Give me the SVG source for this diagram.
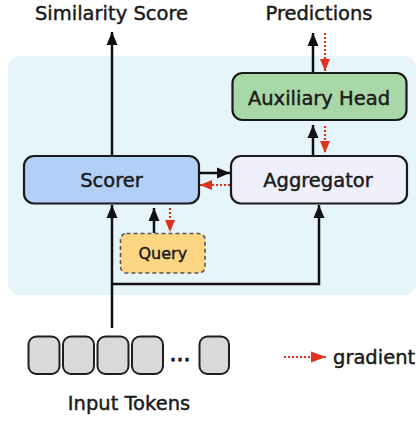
<svg xmlns="http://www.w3.org/2000/svg" width="419" height="424" viewBox="0 0 419 424">
  <style>
    text { font-family: "DejaVu Sans", "Liberation Sans", sans-serif; fill: #1a1a1a; stroke: #1a1a1a; stroke-width: 0.45; }
    .title { font-size: 19.5px; text-anchor: middle; }
    .label { font-size: 19.5px; text-anchor: middle; }
    .box { stroke: #1a1a1a; stroke-width: 2.2; }
    .flow { fill: none; stroke: #111; stroke-width: 2.5; }
    .grad { fill: none; stroke: #e0301e; stroke-width: 2.2; stroke-dasharray: 2 2; }
    .token { fill: #d9d9d9; stroke: #1e1e1e; stroke-width: 2; }
  </style>
  <defs>
    <marker id="arrow-black" markerUnits="userSpaceOnUse" markerWidth="14" markerHeight="14" viewBox="0 0 14 14" refX="13" refY="7" orient="auto">
      <path d="M0,1.5 L13,7 L0,12.5 Z" fill="#111"/>
    </marker>
    <marker id="arrow-red" markerUnits="userSpaceOnUse" markerWidth="14" markerHeight="14" viewBox="0 0 14 14" refX="12" refY="7" orient="auto">
      <path d="M0,2 L12,7 L0,12 Z" fill="#e0301e"/>
    </marker>
    <marker id="arrow-red-big" markerUnits="userSpaceOnUse" markerWidth="16" markerHeight="14" viewBox="0 0 16 14" refX="15" refY="7" orient="auto">
      <path d="M0,1.5 L15,7 L0,12.5 Z" fill="#e0301e"/>
    </marker>
  </defs>

  <!-- model panel -->
  <rect id="panel" x="8" y="56" width="408" height="239" rx="12" fill="#e5f5fa"/>

  <!-- output labels -->
  <g id="similarity-score"><text class="title" x="111.5" y="20">Similarity Score</text></g>
  <g id="predictions"><text class="title" x="319" y="20">Predictions</text></g>

  <!-- connectors -->
  <g id="connectors">
    <line class="flow" x1="112" y1="156" x2="112" y2="32" marker-end="url(#arrow-black)"/>
    <line class="flow" x1="313" y1="73" x2="313" y2="33" marker-end="url(#arrow-black)"/>
    <line class="grad" x1="325" y1="33" x2="325" y2="71" marker-end="url(#arrow-red)"/>
    <line class="flow" x1="313" y1="156" x2="313" y2="125" marker-end="url(#arrow-black)"/>
    <line class="grad" x1="325" y1="126" x2="325" y2="153" marker-end="url(#arrow-red)"/>
    <line class="flow" x1="199" y1="173" x2="230" y2="173" marker-end="url(#arrow-black)"/>
    <line class="grad" x1="230" y1="185" x2="200" y2="185" marker-end="url(#arrow-red)"/>
    <line class="flow" x1="154" y1="233" x2="154" y2="208" marker-end="url(#arrow-black)"/>
    <line class="grad" x1="170" y1="208" x2="170" y2="232" marker-end="url(#arrow-red)"/>
    <line class="flow" x1="112" y1="328" x2="112" y2="205" marker-end="url(#arrow-black)"/>
    <polyline class="flow" points="112,284 319,284 319,205" marker-end="url(#arrow-black)"/>
  </g>

  <!-- nodes -->
  <g id="auxiliary-head">
    <rect class="box" x="232.5" y="73" width="174" height="47" rx="10" fill="#a9d8a8"/>
    <text class="label" x="319" y="104.5">Auxiliary Head</text>
  </g>
  <g id="scorer">
    <rect class="box" x="24" y="156" width="175" height="47.5" rx="10" fill="#b2d0f7"/>
    <text class="label" x="111.5" y="186.5">Scorer</text>
  </g>
  <g id="aggregator">
    <rect class="box" x="231" y="156" width="176" height="47.5" rx="10" fill="#efeffc"/>
    <text class="label" x="318" y="186.5">Aggregator</text>
  </g>
  <g id="query">
    <rect x="120.5" y="233.5" width="84.5" height="39.5" rx="6" fill="#fdd684" stroke="#555" stroke-width="1.6" stroke-dasharray="4 3"/>
    <text x="162.8" y="258.5" style="font-size:16px;text-anchor:middle">Query</text>
  </g>

  <!-- input tokens -->
  <g id="input-tokens">
    <rect class="token" x="28.5" y="336.5" width="31" height="37.5" rx="8"/>
    <rect class="token" x="63" y="336.5" width="31" height="37.5" rx="8"/>
    <rect class="token" x="97.5" y="336.5" width="31" height="37.5" rx="8"/>
    <rect class="token" x="132" y="336.5" width="31" height="37.5" rx="8"/>
    <text x="180" y="361" style="font-size:21px;text-anchor:middle;stroke-width:1">…</text>
    <rect class="token" x="199.5" y="336.5" width="29.5" height="37.5" rx="8"/>
    <text class="label" x="129" y="410">Input Tokens</text>
  </g>

  <!-- legend -->
  <g id="legend">
    <line class="grad" x1="284" y1="357" x2="326" y2="357" marker-end="url(#arrow-red-big)"/>
    <text x="333" y="363.5" style="font-size:19.5px">gradient</text>
  </g>
</svg>
